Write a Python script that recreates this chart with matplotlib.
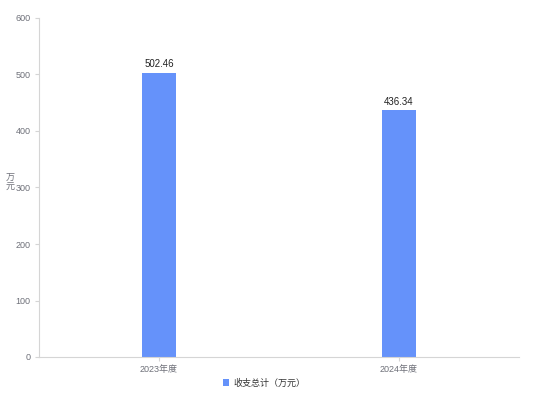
import matplotlib.pyplot as plt

plt.rcParams['font.family'] = ['Liberation Sans', 'Noto Sans CJK SC', 'DejaVu Sans']

# ==== DATOS ====
categorias = ["2023年度", "2024年度"]
valores = [502.46, 436.34]
serie = "收支总计（万元）"
color_barra = "#6592FA"
gris = "#6E7079"
eje = "#D5D5D5"

fig = plt.figure(figsize=(5.34, 4), dpi=100)
ax = fig.add_axes([0.073, 0.1075, 0.899, 0.8475])

x = range(len(categorias))
ax.bar(x, valores, width=0.142, color=color_barra, label=serie)
for xi, v in zip(x, valores):
    ax.text(xi, v + 7, f"{v:.2f}", ha="center", va="bottom", fontsize=7, color="#222222")

ax.set_xlim(-0.5, 1.5)
ax.set_ylim(0, 600)
ax.set_yticks([0, 100, 200, 300, 400, 500, 600])
ax.set_xticks(list(x))
ax.set_xticklabels(categorias)
ax.tick_params(axis="y", labelsize=6.5, colors=gris, length=3, color=eje, pad=3)
ax.tick_params(axis="x", labelsize=6.5, colors=gris, length=3, color=eje, pad=3)

for lado in ["top", "right"]:
    ax.spines[lado].set_visible(False)
ax.spines["left"].set_color(eje)
ax.spines["bottom"].set_color(eje)
ax.spines["left"].set_linewidth(0.8)
ax.spines["bottom"].set_linewidth(0.8)

fig.text(10 / 534, 1 - 183 / 400, "万\n元", ha="center", va="center", fontsize=6.5,
         color=gris, linespacing=1.0)

fig.legend(loc="center", bbox_to_anchor=(264 / 534, 1 - 383 / 400), frameon=False,
           fontsize=6.5, handlelength=0.7, handleheight=0.7, handletextpad=0.5,
           labelcolor="#333333")

fig.savefig("out.png", dpi=100)
